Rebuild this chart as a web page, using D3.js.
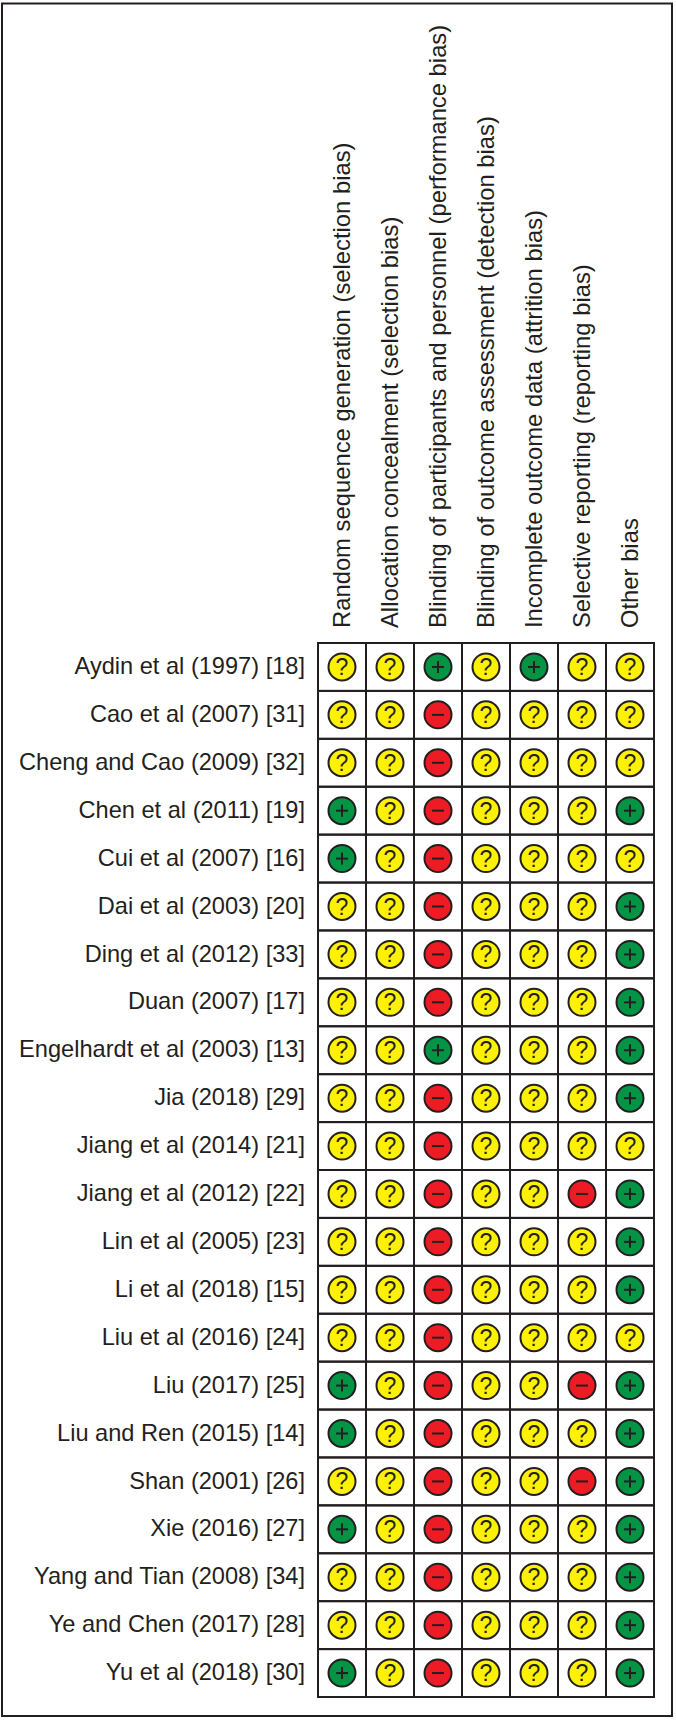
<!DOCTYPE html>
<html>
<head>
<meta charset="utf-8">
<script src="https://cdn.jsdelivr.net/npm/d3@7"></script>
<style>
html, body { margin: 0; padding: 0; background: #fff; }
svg { display: block; }
text { font-family: "Liberation Sans", Arial, sans-serif; fill: #231f20; }
</style>
</head>
<body>
<div id="canvas"></div>
<script>
// DATA
var studies = [
  "Aydin et al (1997) [18]", "Cao et al (2007) [31]", "Cheng and Cao (2009) [32]",
  "Chen et al (2011) [19]", "Cui et al (2007) [16]", "Dai et al (2003) [20]",
  "Ding et al (2012) [33]", "Duan (2007) [17]", "Engelhardt et al (2003) [13]",
  "Jia (2018) [29]", "Jiang et al (2014) [21]", "Jiang et al (2012) [22]",
  "Lin et al (2005) [23]", "Li et al (2018) [15]", "Liu et al (2016) [24]",
  "Liu (2017) [25]", "Liu and Ren (2015) [14]", "Shan (2001) [26]",
  "Xie (2016) [27]", "Yang and Tian (2008) [34]", "Ye and Chen (2017) [28]",
  "Yu et al (2018) [30]"
];

var domains = [
  "Random sequence generation (selection bias)",
  "Allocation concealment (selection bias)",
  "Blinding of participants and personnel (performance bias)",
  "Blinding of outcome assessment (detection bias)",
  "Incomplete outcome data (attrition bias)",
  "Selective reporting (reporting bias)",
  "Other bias"
];

// one string per study, one symbol per domain
var judgements = [
  "??+?+??", "??-????", "??-????", "+?-???+", "+?-????", "??-???+",
  "??-???+", "??-???+", "??+???+", "??-???+", "??-????", "??-??-+",
  "??-???+", "??-???+", "??-????", "+?-??-+", "+?-???+", "??-??-+",
  "+?-???+", "??-???+", "??-???+", "+?-???+"
];

var ratings = ["?", "+", "-"];
var ratingColors = ["#fff200", "#009444", "#ed1c24"];

// LAYOUT
var width = 676, height = 1721;
var ink = "#231f20";
var grid = { left: 318, right: 654, top: 643, bottom: 1697 };

var svg = d3.select("#canvas").append("svg")
  .attr("width", width)
  .attr("height", height);

// outer frame
svg.append("rect")
  .attr("x", 2).attr("y", 3.5)
  .attr("width", 670).attr("height", 1712.5)
  .attr("fill", "#fff")
  .attr("stroke", ink)
  .attr("stroke-width", 2);

// SCALES
var xScale = d3.scaleBand().domain(domains).range([grid.left, grid.right]);
var yScale = d3.scaleBand().domain(studies).range([grid.top, grid.bottom]);
var fillScale = d3.scaleOrdinal().domain(ratings).range(ratingColors);

// study labels
var yAxis = svg.append("g")
  .attr("transform", "translate(" + (grid.left - 13) + ",0)")
  .call(d3.axisLeft(yScale).tickSize(0).tickPadding(0));
yAxis.select(".domain").remove();
yAxis.selectAll("text")
  .attr("font-size", 23.6)
  .attr("fill", ink)
  .attr("dy", "0.3em");

// domain labels, rotated
var xAxis = svg.append("g")
  .attr("transform", "translate(0," + (grid.top - 15) + ")")
  .call(d3.axisTop(xScale).tickSize(0).tickPadding(0));
xAxis.select(".domain").remove();
xAxis.selectAll("text")
  .attr("font-size", 23.8)
  .attr("fill", ink)
  .attr("text-anchor", "start")
  .attr("transform", "rotate(-90)")
  .attr("x", 0)
  .attr("y", 8)
  .attr("dy", 0);

// GRID
var gridGroup = svg.append("g")
  .attr("stroke", ink)
  .attr("stroke-width", 2)
  .attr("fill", "none");

gridGroup.selectAll(".cell")
  .data(d3.cross(studies, domains))
  .enter().append("rect")
  .attr("class", "cell")
  .attr("x", function (d) { return xScale(d[1]); })
  .attr("y", function (d) { return yScale(d[0]); })
  .attr("width", xScale.bandwidth())
  .attr("height", yScale.bandwidth());

// MARKS
var cells = [];
studies.forEach(function (study, i) {
  domains.forEach(function (domain, j) {
    cells.push({ study: study, domain: domain, rating: judgements[i][j] });
  });
});

var marks = svg.append("g").selectAll("g")
  .data(cells)
  .enter().append("g")
  .attr("transform", function (d) {
    return "translate(" + (xScale(d.domain) + xScale.bandwidth() / 2) + "," +
      (yScale(d.study) + yScale.bandwidth() / 2) + ")";
  });

marks.append("circle")
  .attr("r", 13.5)
  .attr("fill", function (d) { return fillScale(d.rating); })
  .attr("stroke", ink)
  .attr("stroke-width", 2);

// question marks
marks.filter(function (d) { return d.rating === "?"; })
  .append("text")
  .attr("text-anchor", "middle")
  .attr("y", 8)
  .attr("font-size", 23)
  .text("?");

// plus and minus strokes
marks.filter(function (d) { return d.rating !== "?"; })
  .append("line")
  .attr("x1", -6).attr("x2", 6)
  .attr("stroke", ink)
  .attr("stroke-width", 2);

marks.filter(function (d) { return d.rating === "+"; })
  .append("line")
  .attr("y1", -6).attr("y2", 6)
  .attr("stroke", ink)
  .attr("stroke-width", 2);
</script>
</body>
</html>
